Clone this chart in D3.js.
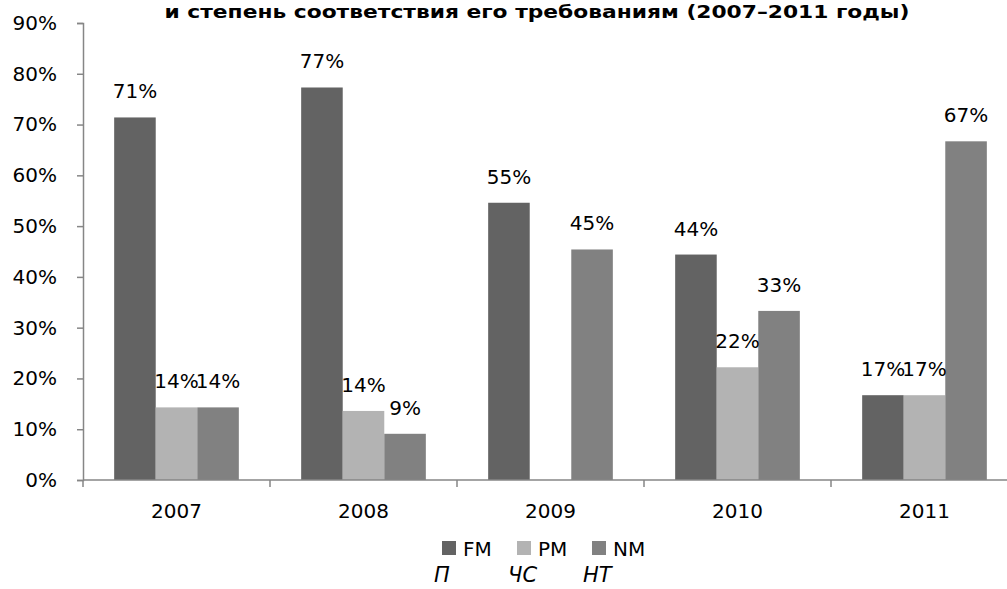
<!DOCTYPE html>
<html>
<head>
<meta charset="utf-8">
<script src="https://cdn.jsdelivr.net/npm/d3@7"></script>
<style>
  body { margin: 0; background: #fff; }
  svg { display: block; font-family: "DejaVu Sans", sans-serif; }
</style>
</head>
<body>
<div id="chart"></div>
<script>
// Chart data
const years = ['2007', '2008', '2009', '2010', '2011'];
const seriesNames = ['FM', 'PM', 'NM'];
const fmValues = [0.714, 0.773, 0.546, 0.444, 0.167];
const pmValues = [0.143, 0.136, null, 0.222, 0.167];
const nmValues = [0.143, 0.091, 0.454, 0.333, 0.667];
const yTicks = [0, 0.1, 0.2, 0.3, 0.4, 0.5, 0.6, 0.7, 0.8, 0.9];
const legendNotes = ['П', 'ЧС', 'НТ'];
const titleText = 'и степень соответствия его требованиям (2007–2011 годы)';

const colors = { FM: '#636363', PM: '#b3b3b3', NM: '#818181' };

const W = 1007, H = 589;
const margin = { top: 23, left: 83, bottom: 109 };
const plotW = 935; // plot area runs past the right edge, as in the source image

const svg = d3.select('#chart').append('svg')
    .attr('width', W)
    .attr('height', H);

const chartArea = svg.append('g')
    .attr('transform', `translate(${margin.left},${margin.top})`);
const plotH = H - margin.top - margin.bottom;

const x = d3.scaleBand().domain(years).range([0, plotW]).paddingInner(0).paddingOuter(0);
const barW = x.bandwidth() / 4.5;
const xs = d3.scaleBand().domain(seriesNames).range([0, barW * 3]);
const y = d3.scaleLinear().domain([0, 0.9]).range([plotH, 0]);

// Title
svg.append('text')
    .attr('x', 537)
    .attr('y', 18)
    .attr('text-anchor', 'middle')
    .attr('font-size', '18px')
    .attr('font-weight', 'bold')
    .attr('textLength', 745)
    .attr('lengthAdjust', 'spacingAndGlyphs')
    .attr('fill', '#000')
    .text(titleText);

// Bars
const table = years.map((yr, i) => ({
    year: yr,
    values: [
        { key: 'FM', v: fmValues[i] },
        { key: 'PM', v: pmValues[i] },
        { key: 'NM', v: nmValues[i] }
    ]
}));

const groups = chartArea.selectAll('.grp')
    .data(table)
    .enter().append('g')
    .attr('class', 'grp')
    .attr('transform', d => `translate(${x(d.year) + barW * 0.75},0)`);

groups.selectAll('rect')
    .data(d => d.values.filter(v => v.v != null))
    .enter().append('rect')
    .attr('x', d => xs(d.key))
    .attr('y', d => y(d.v))
    .attr('width', xs.bandwidth())
    .attr('height', d => plotH - y(d.v))
    .attr('fill', d => colors[d.key]);

groups.selectAll('.bar-label')
    .data(d => d.values.filter(v => v.v != null))
    .enter().append('text')
    .attr('class', 'bar-label')
    .attr('x', d => xs(d.key) + xs.bandwidth() / 2)
    .attr('y', d => y(d.v) - 19)
    .attr('text-anchor', 'middle')
    .attr('font-size', '20px')
    .attr('fill', '#000')
    .text(d => Math.round(d.v * 100) + '%');

// Axes
const axisColor = '#868686';
const yAxis = chartArea.append('g')
    .call(d3.axisLeft(y).tickValues(yTicks).tickFormat(d3.format('.0%')).tickSize(6).tickPadding(20));
yAxis.select('.domain').attr('stroke', axisColor).attr('stroke-width', 1.5);
yAxis.selectAll('.tick line').attr('stroke', axisColor).attr('stroke-width', 1.5);
yAxis.selectAll('.tick text').attr('font-size', '20px').attr('fill', '#000')
    .attr('font-family', '"DejaVu Sans", sans-serif');

const xAxisG = chartArea.append('g')
    .attr('transform', `translate(0,${plotH})`);
xAxisG.append('line')
    .attr('x1', 0).attr('x2', plotW)
    .attr('stroke', axisColor).attr('stroke-width', 1.5);
xAxisG.selectAll('.xtick')
    .data(years.concat(['end']))
    .enter().append('line')
    .attr('x1', (d, i) => i * x.step()).attr('x2', (d, i) => i * x.step())
    .attr('y1', 0).attr('y2', 7)
    .attr('stroke', axisColor).attr('stroke-width', 1.5);
xAxisG.selectAll('.xlab')
    .data(years)
    .enter().append('text')
    .attr('x', d => x(d) + x.bandwidth() / 2)
    .attr('y', 38)
    .attr('text-anchor', 'middle')
    .attr('font-size', '20px')
    .attr('fill', '#000')
    .text(d => d);

// Legend
const legendX = [442, 517, 592];
const legend = svg.append('g');
seriesNames.forEach((s, i) => {
    legend.append('rect')
        .attr('x', legendX[i]).attr('y', 541)
        .attr('width', 14).attr('height', 14)
        .attr('fill', colors[s]);
    legend.append('text')
        .attr('x', legendX[i] + 21).attr('y', 556)
        .attr('font-size', '20px')
        .attr('fill', '#000')
        .text(s);
});
const noteX = [434, 508, 583];
legendNotes.forEach((n, i) => {
    legend.append('text')
        .attr('x', noteX[i]).attr('y', 582)
        .attr('font-size', '21px')
        .attr('font-style', 'italic')
        .attr('fill', '#000')
        .text(n);
});
</script>
</body>
</html>
